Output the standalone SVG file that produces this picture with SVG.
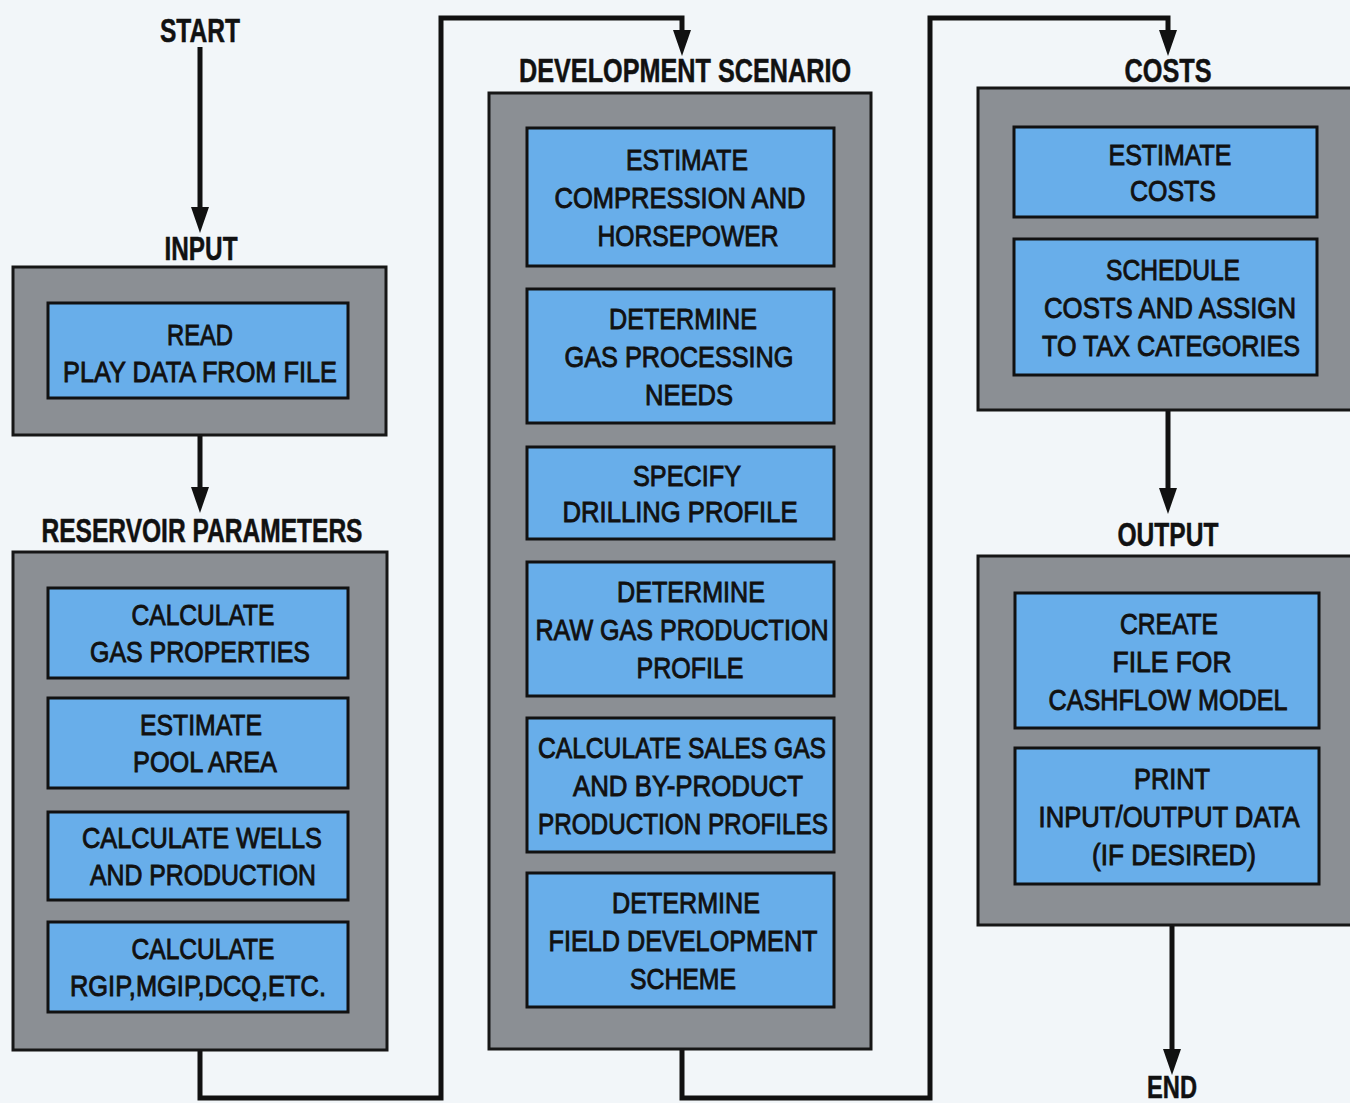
<svg xmlns="http://www.w3.org/2000/svg" width="1350" height="1103" viewBox="0 0 1350 1103">
<style>
.bg{fill:#f2f6f9}
.outer{fill:#8b8f94;stroke:#161616;stroke-width:3}
.inner{fill:#68aeea;stroke:#111;stroke-width:3}
.h{font-family:"Liberation Sans",Arial,sans-serif;font-weight:700;font-size:33px;fill:#111;stroke:#111;stroke-width:0.5;text-anchor:middle}
.t{font-family:"Liberation Sans",Arial,sans-serif;font-weight:400;font-size:29px;fill:#111;stroke:#111;stroke-width:0.9;text-anchor:middle}
.c{fill:none;stroke:#111;stroke-width:5}
</style>
<defs>
<marker id="ah" viewBox="0 0 26 18" markerWidth="26" markerHeight="18" refX="1" refY="9" orient="auto" markerUnits="userSpaceOnUse">
<path d="M0,0 L26,9 L0,18 z" fill="#111"/>
</marker>
</defs>
<rect class="bg" x="0" y="0" width="1350" height="1103"/>

<g id="connectors">
<path class="c" d="M200,47 V208" marker-end="url(#ah)"/>
<path class="c" d="M200,435 V488" marker-end="url(#ah)"/>
<path class="c" d="M200,1050 V1098 H441 V18 H682 V31" marker-end="url(#ah)"/>
<path class="c" d="M682,1050 V1098 H930 V18 H1168 V31" marker-end="url(#ah)"/>
<path class="c" d="M1168,410 V489" marker-end="url(#ah)"/>
<path class="c" d="M1172,925 V1050" marker-end="url(#ah)"/>
</g>

<g id="start"><text class="h" x="200" y="42" textLength="80" lengthAdjust="spacingAndGlyphs">START</text></g>

<g id="input">
<text class="h" x="201" y="260" textLength="73" lengthAdjust="spacingAndGlyphs">INPUT</text>
<rect class="outer" x="13" y="267" width="373" height="168"/>
<g id="read-play-data">
<rect class="inner" x="48" y="303" width="300" height="95"/>
<text class="t" x="200" y="345" textLength="66" lengthAdjust="spacingAndGlyphs">READ</text>
<text class="t" x="200" y="382" textLength="274" lengthAdjust="spacingAndGlyphs">PLAY DATA FROM FILE</text>
</g>
</g>

<g id="reservoir-parameters">
<text class="h" x="202" y="542" textLength="321" lengthAdjust="spacingAndGlyphs">RESERVOIR PARAMETERS</text>
<rect class="outer" x="13" y="552" width="374" height="498"/>
<g id="calc-gas-properties">
<rect class="inner" x="48" y="588" width="300" height="90"/>
<text class="t" x="203" y="625" textLength="143" lengthAdjust="spacingAndGlyphs">CALCULATE</text>
<text class="t" x="200" y="662" textLength="220" lengthAdjust="spacingAndGlyphs">GAS PROPERTIES</text>
</g>
<g id="estimate-pool-area">
<rect class="inner" x="48" y="698" width="300" height="90"/>
<text class="t" x="201" y="735" textLength="122" lengthAdjust="spacingAndGlyphs">ESTIMATE</text>
<text class="t" x="205" y="772" textLength="144" lengthAdjust="spacingAndGlyphs">POOL AREA</text>
</g>
<g id="calc-wells-production">
<rect class="inner" x="48" y="812" width="300" height="88"/>
<text class="t" x="202" y="848" textLength="240" lengthAdjust="spacingAndGlyphs">CALCULATE WELLS</text>
<text class="t" x="203" y="885" textLength="226" lengthAdjust="spacingAndGlyphs">AND PRODUCTION</text>
</g>
<g id="calc-rgip">
<rect class="inner" x="48" y="922" width="300" height="90"/>
<text class="t" x="203" y="959" textLength="143" lengthAdjust="spacingAndGlyphs">CALCULATE</text>
<text class="t" x="198" y="996" textLength="256" lengthAdjust="spacingAndGlyphs">RGIP,MGIP,DCQ,ETC.</text>
</g>
</g>

<g id="development-scenario">
<text class="h" x="685" y="82" textLength="332" lengthAdjust="spacingAndGlyphs">DEVELOPMENT SCENARIO</text>
<rect class="outer" x="489" y="93" width="382" height="956"/>
<g id="estimate-compression">
<rect class="inner" x="527" y="128" width="307" height="138"/>
<text class="t" x="687" y="170" textLength="122" lengthAdjust="spacingAndGlyphs">ESTIMATE</text>
<text class="t" x="680" y="208" textLength="251" lengthAdjust="spacingAndGlyphs">COMPRESSION AND</text>
<text class="t" x="688" y="246" textLength="181" lengthAdjust="spacingAndGlyphs">HORSEPOWER</text>
</g>
<g id="gas-processing">
<rect class="inner" x="527" y="289" width="307" height="134"/>
<text class="t" x="683" y="329" textLength="148" lengthAdjust="spacingAndGlyphs">DETERMINE</text>
<text class="t" x="679" y="367" textLength="229" lengthAdjust="spacingAndGlyphs">GAS PROCESSING</text>
<text class="t" x="689" y="405" textLength="88" lengthAdjust="spacingAndGlyphs">NEEDS</text>
</g>
<g id="drilling-profile">
<rect class="inner" x="527" y="447" width="307" height="92"/>
<text class="t" x="687" y="486" textLength="108" lengthAdjust="spacingAndGlyphs">SPECIFY</text>
<text class="t" x="680" y="522" textLength="235" lengthAdjust="spacingAndGlyphs">DRILLING PROFILE</text>
</g>
<g id="raw-gas-production">
<rect class="inner" x="527" y="562" width="307" height="134"/>
<text class="t" x="691" y="602" textLength="148" lengthAdjust="spacingAndGlyphs">DETERMINE</text>
<text class="t" x="682" y="640" textLength="293" lengthAdjust="spacingAndGlyphs">RAW GAS PRODUCTION</text>
<text class="t" x="690" y="678" textLength="107" lengthAdjust="spacingAndGlyphs">PROFILE</text>
</g>
<g id="sales-gas">
<rect class="inner" x="527" y="718" width="307" height="134"/>
<text class="t" x="682" y="758" textLength="288" lengthAdjust="spacingAndGlyphs">CALCULATE SALES GAS</text>
<text class="t" x="688" y="796" textLength="230" lengthAdjust="spacingAndGlyphs">AND BY-PRODUCT</text>
<text class="t" x="683" y="834" textLength="290" lengthAdjust="spacingAndGlyphs">PRODUCTION PROFILES</text>
</g>
<g id="field-development">
<rect class="inner" x="527" y="873" width="307" height="134"/>
<text class="t" x="686" y="913" textLength="148" lengthAdjust="spacingAndGlyphs">DETERMINE</text>
<text class="t" x="683" y="951" textLength="269" lengthAdjust="spacingAndGlyphs">FIELD DEVELOPMENT</text>
<text class="t" x="683" y="989" textLength="106" lengthAdjust="spacingAndGlyphs">SCHEME</text>
</g>
</g>

<g id="costs">
<text class="h" x="1168" y="82" textLength="87" lengthAdjust="spacingAndGlyphs">COSTS</text>
<rect class="outer" x="978" y="88" width="380" height="322"/>
<g id="estimate-costs">
<rect class="inner" x="1014" y="127" width="303" height="90"/>
<text class="t" x="1170" y="165" textLength="123" lengthAdjust="spacingAndGlyphs">ESTIMATE</text>
<text class="t" x="1173" y="201" textLength="86" lengthAdjust="spacingAndGlyphs">COSTS</text>
</g>
<g id="schedule-costs">
<rect class="inner" x="1014" y="239" width="303" height="136"/>
<text class="t" x="1173" y="280" textLength="134" lengthAdjust="spacingAndGlyphs">SCHEDULE</text>
<text class="t" x="1170" y="318" textLength="252" lengthAdjust="spacingAndGlyphs">COSTS AND ASSIGN</text>
<text class="t" x="1171" y="356" textLength="258" lengthAdjust="spacingAndGlyphs">TO TAX CATEGORIES</text>
</g>
</g>

<g id="output">
<text class="h" x="1168" y="546" textLength="101" lengthAdjust="spacingAndGlyphs">OUTPUT</text>
<rect class="outer" x="978" y="556" width="380" height="369"/>
<g id="create-file">
<rect class="inner" x="1015" y="593" width="304" height="135"/>
<text class="t" x="1169" y="634" textLength="98" lengthAdjust="spacingAndGlyphs">CREATE</text>
<text class="t" x="1172" y="672" textLength="119" lengthAdjust="spacingAndGlyphs">FILE FOR</text>
<text class="t" x="1168" y="710" textLength="239" lengthAdjust="spacingAndGlyphs">CASHFLOW MODEL</text>
</g>
<g id="print-data">
<rect class="inner" x="1015" y="748" width="304" height="136"/>
<text class="t" x="1172" y="789" textLength="76" lengthAdjust="spacingAndGlyphs">PRINT</text>
<text class="t" x="1169" y="827" textLength="261" lengthAdjust="spacingAndGlyphs">INPUT/OUTPUT DATA</text>
<text class="t" x="1174" y="865" textLength="164" lengthAdjust="spacingAndGlyphs">(IF DESIRED)</text>
</g>
</g>

<g id="end"><text class="h" x="1172" y="1098" textLength="50" lengthAdjust="spacingAndGlyphs" style="font-size:31px">END</text></g>
</svg>
